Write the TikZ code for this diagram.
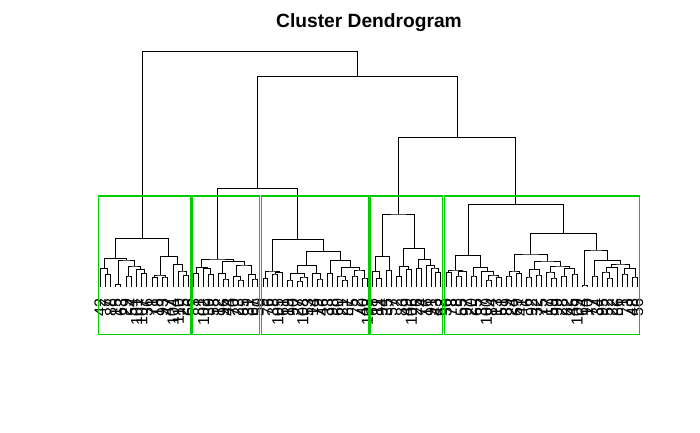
\documentclass[tikz,border=0pt]{standalone}
\usepackage{fontspec}
\setmainfont{Liberation Sans}
\usetikzlibrary{calc}
\definecolor{boxgreen}{RGB}{0,205,0}
\tikzset{
  den/.style={draw=black,line width=1pt},
  clbox/.style={draw=boxgreen,line width=1.3pt},
  lab/.style={rotate=90,anchor=east,inner sep=0pt,outer sep=0pt,font=\fontsize{16}{16}\selectfont},
  ttl/.style={anchor=base,inner sep=0pt,font=\fontsize{19.2}{20}\selectfont\bfseries}
}
\newcommand\mrg[4]{%
  \coordinate (tmpmid) at ($(#2)!0.5!(#3)$);
  \coordinate (#1) at (tmpmid |- 0,#4);
  \draw[den] (#2) |- (#1) -| (#3);
}
\begin{document}
\begin{tikzpicture}[x=1pt,y=-1pt]
\useasboundingbox[fill=white] (0,0) rectangle (700,432);
\node[ttl] (title) at (369,27.2) {Cluster Dendrogram};
% leaves
\foreach \k in {1,...,18} \coordinate (l\k) at ({100.1+(\k-1)*5.21},286.7);
\foreach \k in {19,...,32} \coordinate (l\k) at ({193.7+(\k-19)*4.94},286.7);
\foreach \k in {33,...,54} \coordinate (l\k) at ({263.0+(\k-33)*4.97},286.7);
\foreach \k in {55,...,69} \coordinate (l\k) at ({372.0+(\k-55)*4.92},286.7);
\foreach \k in {70,...,108} \coordinate (l\k) at ({446.0+(\k-70)*5.04},286.7);
% cluster 1
\mrg{a23}{l2}{l3}{274.3}
\mrg{aA}{l1}{a23}{268.3}
\mrg{a45}{l4}{l5}{284.3}
\mrg{a67}{l6}{l7}{276}
\mrg{a910}{l9}{l10}{273.3}
\mrg{a8910}{l8}{a910}{269.3}
\mrg{aC}{a67}{a8910}{266}
\mrg{aB}{a45}{aC}{260}
\mrg{aL}{aA}{aB}{258.3}
\mrg{a1112}{l11}{l12}{277.7}
\mrg{a1314}{l13}{l14}{277}
\mrg{aP}{a1112}{a1314}{275}
\mrg{a1718}{l17}{l18}{275.7}
\mrg{a1618}{l16}{a1718}{271}
\mrg{aQ}{l15}{a1618}{264.3}
\mrg{aR}{aP}{aQ}{256.7}
\mrg{c1}{aL}{aR}{238.3}
% cluster 2
\mrg{b12}{l19}{l20}{273.3}
\mrg{b45}{l22}{l23}{274.3}
\mrg{b345}{l21}{b45}{268.3}
\mrg{bL}{b12}{b345}{267.3}
\mrg{b2526}{l25}{l26}{279}
\mrg{b2426}{l24}{b2526}{273.3}
\mrg{b2829}{l28}{l29}{280}
\mrg{b2729}{l27}{b2829}{276.7}
\mrg{b3132}{l31}{l32}{279}
\mrg{b3032}{l30}{b3132}{274.3}
\mrg{bRR}{b2729}{b3032}{265}
\mrg{bR}{b2426}{bRR}{261.7}
\mrg{c2}{bL}{bR}{259}
% cluster 3
\mrg{ca12}{l33}{l34}{278.3}
\mrg{ca34}{l35}{l36}{274}
\mrg{ca345}{ca34}{l37}{272.7}
\mrg{cL}{ca12}{ca345}{271}
\mrg{ca67}{l38}{l39}{280}
\mrg{ca89}{l40}{l41}{281}
\mrg{ca810}{ca89}{l42}{277}
\mrg{cLL}{ca67}{ca810}{273.3}
\mrg{ca1213}{l44}{l45}{279}
\mrg{cLR}{l43}{ca1213}{273.3}
\mrg{cRL}{cLL}{cLR}{265.3}
\mrg{ca1415}{l46}{l47}{273.3}
\mrg{ca1718}{l49}{l50}{280}
\mrg{ca1618}{l48}{ca1718}{276}
\mrg{ca1920}{l51}{l52}{276}
\mrg{ca2122}{l53}{l54}{278}
\mrg{ca1922}{ca1920}{ca2122}{270}
\mrg{cRRR}{ca1618}{ca1922}{267.3}
\mrg{cRR}{ca1415}{cRRR}{260.7}
\mrg{cR}{cRL}{cRR}{251.7}
\mrg{c3}{cL}{cR}{239.3}
% cluster 4
\mrg{d23}{l56}{l57}{278.3}
\mrg{d13}{l55}{d23}{271.7}
\mrg{d45}{l58}{l59}{270.7}
\mrg{dL}{d13}{d45}{256.7}
\mrg{d67}{l60}{l61}{276.7}
\mrg{d89}{l62}{l63}{269.3}
\mrg{dRL}{d67}{d89}{266.7}
\mrg{d1011}{l64}{l65}{268.3}
\mrg{d1415}{l68}{l69}{272.7}
\mrg{d1315}{l67}{d1415}{268}
\mrg{d1215}{l66}{d1315}{265.3}
\mrg{dRR}{d1011}{d1215}{259.3}
\mrg{dR}{dRL}{dRR}{248.3}
\mrg{c4}{dL}{dR}{214}
% cluster 5
\mrg{e12}{l70}{l71}{272.7}
\mrg{e34}{l72}{l73}{276}
\mrg{e35}{e34}{l74}{271.7}
\mrg{eLL}{e12}{e35}{270}
\mrg{e67}{l75}{l76}{276}
\mrg{e910}{l78}{l79}{280}
\mrg{e1112}{l80}{l81}{277.3}
\mrg{e912}{e910}{e1112}{275}
\mrg{e812}{l77}{e912}{271.7}
\mrg{eLR}{e67}{e812}{267.3}
\mrg{eL}{eLL}{eLR}{255.3}
\mrg{e1314}{l82}{l83}{276}
\mrg{e1516}{l84}{l85}{273.3}
\mrg{eRLL}{e1314}{e1516}{271}
\mrg{e1718}{l86}{l87}{277}
\mrg{e1920}{l88}{l89}{275}
\mrg{eP}{e1718}{e1920}{269.3}
\mrg{e2223}{l91}{l92}{278}
\mrg{e2123}{l90}{e2223}{272}
\mrg{e2425}{l93}{l94}{276}
\mrg{e2627}{l95}{l96}{274}
\mrg{e2427}{e2425}{e2627}{268.3}
\mrg{eQ}{e2123}{e2427}{266}
\mrg{eRLR}{eP}{eQ}{261}
\mrg{eRL}{eRLL}{eRLR}{254}
\mrg{e2829}{l97}{l98}{285}
\mrg{e3031}{l99}{l100}{276}
\mrg{e3334}{l102}{l103}{278}
\mrg{e3234}{l101}{e3334}{272}
\mrg{eA}{e3234}{l104}{267.3}
\mrg{e3637}{l105}{l106}{274}
\mrg{e3839}{l107}{l108}{277}
\mrg{eB}{e3637}{e3839}{268.3}
\mrg{eRRRR}{eA}{eB}{264}
\mrg{eRRR}{e3031}{eRRRR}{260.7}
\mrg{eRR}{e2829}{eRRR}{250}
\mrg{eR}{eRL}{eRR}{233.3}
\mrg{c5}{eL}{eR}{204.3}
% upper tree
\mrg{c23}{c2}{c3}{188.3}
\mrg{n3}{c4}{c5}{137.7}
\mrg{n2}{c23}{n3}{76.7}
\mrg{root}{c1}{n2}{51.3}
% labels
\foreach \k/\t in {1/42,2/7,3/88,4/15,5/63,6/29,7/54,8/101,9/107,10/36,
 11/71,12/18,13/93,14/47,15/104,16/110,17/25,18/66,19/3,20/81,
 21/102,22/39,23/58,24/12,25/96,26/44,27/70,28/23,29/85,30/31,
 31/67,32/50,33/9,34/76,35/38,36/105,37/61,38/19,39/90,40/27,
 41/108,42/53,43/14,44/79,45/46,46/33,47/98,48/60,49/21,50/87,
 51/5,52/72,53/40,54/103,55/68,56/11,57/94,58/35,59/57,60/2,
 61/83,62/49,63/106,64/26,65/74,66/16,67/91,68/43,69/62,70/30,
 71/78,72/8,73/55,74/97,75/20,76/65,77/37,78/100,79/84,80/13,
 81/51,82/89,83/24,84/69,85/41,86/6,87/92,88/32,89/75,90/17,
 91/59,92/99,93/28,94/82,95/45,96/109,97/64,98/10,99/77,100/34,
 101/95,102/52,103/22,104/86,105/1,106/73,107/48,108/56}
  \node[lab] (t\k) at (l\k |- 0,299) {\t};
% cluster rectangles
\draw[clbox] (98.3,196) rectangle (190.4,334.3);
\draw[clbox] (192.0,196) rectangle (259.5,334.3);
\draw[clbox] (261.3,196) rectangle (369.0,334.3);
\draw[clbox] (370.3,196) rectangle (442.5,334.3);
\draw[clbox] (444.3,196) rectangle (639.2,334.3);
\end{tikzpicture}
\end{document}
